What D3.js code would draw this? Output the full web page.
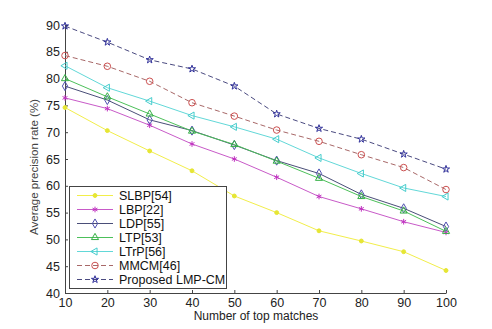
<!DOCTYPE html>
<html>
<head>
<meta charset="utf-8">
<script src="https://cdn.jsdelivr.net/npm/d3@7"></script>
<style>
  body { margin: 0; background: #fff; }
  text { font-family: "Liberation Sans", Arial, sans-serif; }
</style>
</head>
<body>
<div id="container"></div>
<script>
let w = 492;
let h = 329;

// data
let matches = [10, 20, 30, 40, 50, 60, 70, 80, 90, 100];
let slbp = [74.6, 70.3, 66.5, 62.8, 58.1, 55.0, 51.6, 49.7, 47.7, 44.2];
let lbp = [76.4, 74.4, 71.3, 67.8, 65.0, 61.6, 58.0, 55.7, 53.3, 51.3];
let ldp = [78.6, 76.0, 72.3, 70.3, 67.6, 64.7, 62.3, 58.4, 55.8, 52.4];
let ltp = [80.0, 76.6, 73.4, 70.2, 67.7, 64.6, 61.4, 58.0, 55.3, 51.5];
let ltrp = [82.4, 78.3, 75.8, 73.1, 71.0, 68.7, 65.2, 62.3, 59.6, 58.0];
let mmcm = [84.3, 82.3, 79.5, 75.5, 73.0, 70.4, 68.3, 65.8, 63.4, 59.3];
let proposed = [89.8, 86.8, 83.5, 81.8, 78.6, 73.4, 70.7, 68.7, 65.9, 63.1];

let names = ["SLBP[54]", "LBP[22]", "LDP[55]", "LTP[53]", "LTrP[56]", "MMCM[46]", "Proposed LMP-CM"];
let allValues = [slbp, lbp, ldp, ltp, ltrp, mmcm, proposed];
let lineColors = ["#f2ee4a", "#c85ac8", "#4a4e78", "#4cc05a", "#62d8d8", "#a86868", "#4a4a80"];
let markColors = ["#e6e634", "#c030c0", "#5050b0", "#36b046", "#44cccc", "#cc5050", "#30309a"];
let dashes = [null, null, null, null, null, "5,3", "5,3"];
let shapes = ["dot", "asterisk", "diamond", "triangle", "left", "circle", "star"];

let yTicks = [40, 45, 50, 55, 60, 65, 70, 75, 80, 85, 90];

let viz = d3.select("#container")
  .append("svg")
  .attr("width", w)
  .attr("height", h)
  .style("background-color", "white");

let xScale = d3.scaleLinear().domain([10, 100]).range([65, 446]);
let yScale = d3.scaleLinear().domain([40, 90]).range([293, 25]);

// axes, ticks pointing inside like matlab
let xAxis = d3.axisBottom(xScale).tickValues(matches).tickSizeInner(-3).tickSizeOuter(0).tickPadding(5);
let xAxisGroup = viz.append("g").attr("transform", "translate(0,293)").call(xAxis);

let yAxis = d3.axisLeft(yScale).tickValues(yTicks).tickSizeInner(-3).tickSizeOuter(0).tickPadding(5);
let yAxisGroup = viz.append("g").attr("transform", "translate(65,0)").call(yAxis);

viz.selectAll(".domain").attr("stroke", "#444");
viz.selectAll(".tick line").attr("stroke", "#444");
viz.selectAll(".tick text")
  .style("font-family", "Liberation Sans, Arial, sans-serif")
  .style("font-size", "12.5px")
  .attr("fill", "#222");

viz.append("text")
  .attr("x", 256)
  .attr("y", 320)
  .attr("text-anchor", "middle")
  .style("font-size", "12px")
  .attr("fill", "#222")
  .text("Number of top matches");

viz.append("text")
  .attr("transform", "translate(38,167) rotate(-90)")
  .attr("text-anchor", "middle")
  .style("font-size", "11.5px")
  .attr("fill", "#444")
  .text("Average precision rate (%)");

function markerPath(shape) {
  if (shape == "dot") return d3.symbol(d3.symbolCircle, 12)();
  if (shape == "asterisk") return d3.symbol(d3.symbolAsterisk, 22)();
  if (shape == "diamond") return d3.symbol(d3.symbolDiamond, 24)();
  if (shape == "triangle") return d3.symbol(d3.symbolTriangle, 22)();
  if (shape == "left") return d3.symbol(d3.symbolTriangle, 22)();
  if (shape == "circle") return d3.symbol(d3.symbolCircle, 34)();
  return d3.symbol(d3.symbolStar, 16)();
}

function drawMarker(g, i, x, y) {
  let rot = shapes[i] == "left" ? " rotate(-90)" : "";
  g.append("path")
    .attr("d", markerPath(shapes[i]))
    .attr("transform", "translate(" + x + "," + y + ")" + rot)
    .attr("fill", shapes[i] == "dot" ? markColors[i] : "none")
    .attr("stroke", markColors[i])
    .attr("stroke-width", 1);
}

let line = d3.line()
  .x(function(d, i) { return xScale(matches[i]); })
  .y(function(d) { return yScale(d); });

let vizGroup = viz.append("g").attr("class", "vizgroup");

allValues.forEach(function(values, i) {
  let g = vizGroup.append("g").attr("class", "series");
  g.append("path")
    .datum(values)
    .attr("d", line)
    .attr("fill", "none")
    .attr("stroke", lineColors[i])
    .attr("stroke-width", 1)
    .attr("stroke-dasharray", dashes[i]);
  values.forEach(function(v, j) {
    drawMarker(g, i, xScale(matches[j]), yScale(v));
  });
});

// legend
let legend = viz.append("g").attr("class", "legend");
legend.append("rect")
  .attr("x", 69.5)
  .attr("y", 186.5)
  .attr("width", 157)
  .attr("height", 102)
  .attr("fill", "white")
  .attr("stroke", "#444");

names.forEach(function(name, i) {
  let y = 195.5 + i * 14;
  legend.append("line")
    .attr("x1", 77).attr("x2", 113)
    .attr("y1", y).attr("y2", y)
    .attr("stroke", lineColors[i])
    .attr("stroke-width", 1)
    .attr("stroke-dasharray", dashes[i]);
  drawMarker(legend, i, 95, y);
  legend.append("text")
    .attr("x", 119)
    .attr("y", y + 4.5)
    .style("font-size", "12.5px")
    .attr("fill", "#111")
    .text(name);
});
</script>
</body>
</html>
